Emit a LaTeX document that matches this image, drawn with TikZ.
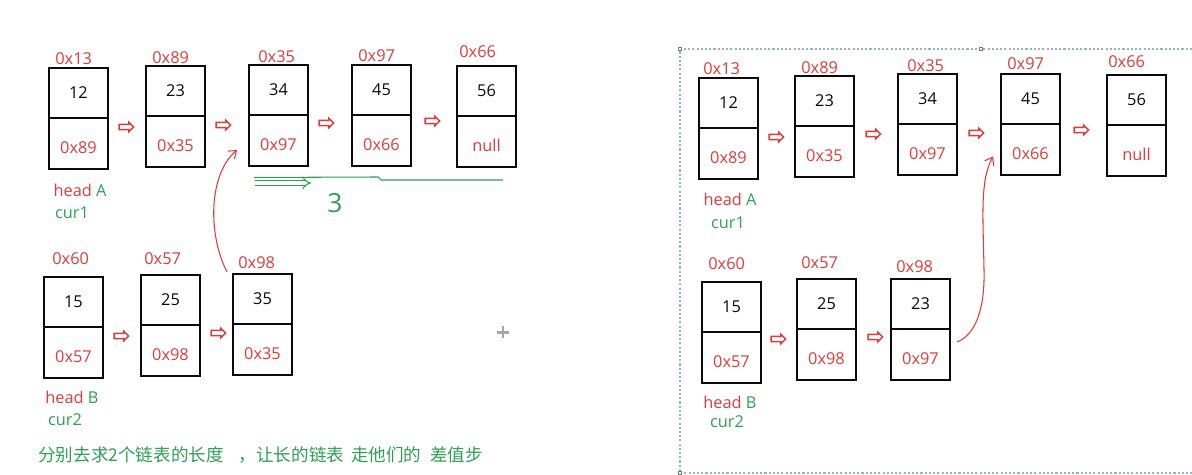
\documentclass[tikz,border=0pt]{standalone}
\usepackage{fontspec}
\setmainfont{Open Sans}
\newfontfamily\cjk{Noto Sans CJK SC}
\usetikzlibrary{arrows.meta,calc,positioning,shapes.arrows}
\definecolor{addrred}{RGB}{226,58,56}
\definecolor{curgreen}{RGB}{46,160,84}
\definecolor{framegray}{RGB}{150,180,200}
\definecolor{ink}{RGB}{10,10,10}
\tikzset{
  valcell/.style={draw=ink, line width=1pt, minimum width=1.18cm, minimum height=1.0cm,
    inner sep=0pt, outer sep=0pt, font=\fontsize{9.3}{11}\selectfont, text=ink},
  nextcell/.style={valcell, minimum height=1.02cm, text=addrred, text height=11pt, text depth=0pt},
  addr/.style={font=\fontsize{9.3}{11}\selectfont, text=addrred, inner sep=0pt},
  ptr/.style={single arrow, draw=addrred, fill=white, line width=0.8pt, minimum height=0.29cm,
    minimum width=0.19cm, single arrow head extend=0.04cm, inner sep=0.035cm},
  redlink/.style={-{Straight Barb[length=4pt,width=6pt]}, draw=addrred, line width=0.6pt},
  stepline/.style={draw=curgreen, line width=0.6pt},
  tag/.style={font=\fontsize{9.3}{11}\selectfont, inner sep=0pt},
  note/.style={font=\cjk\fontsize{10}{12}\selectfont, text=curgreen, inner sep=0pt},
  selframe/.style={draw=framegray, line width=0.6pt, dash pattern=on 1.2pt off 1.2pt},
}
% list cell: name, top-left, value, next, own address, label offset
\newcommand{\listnode}[6]{
  \node[valcell, anchor=north west] (#1-v) at (#2) {#3};
  \node[nextcell, anchor=north] (#1-n) at (#1-v.south) {#4};
  \node[addr, anchor=base west] (#1-a) at ($(#1-v.north west)+(#6)$) {#5};
}

\begin{document}
\begin{tikzpicture}[x=0.02cm,y=-0.02cm]
  \useasboundingbox (0,0) rectangle (1192,475);

  % Left: list A on top, list B below.
  \listnode{A1}{49,68}{12}{0x89}{0x13}{6,-3}
  \listnode{A2}{146,66}{23}{0x35}{0x89}{6,-2}
  \listnode{A3}{249,65}{34}{0x97}{0x35}{9,-2}
  \listnode{A4}{352,65}{45}{0x66}{0x97}{6,-3}
  \listnode{A5}{457,66}{56}{null}{0x66}{2,-8}
  \node[ptr] (pA1) at (125,127) {};
  \node[ptr] (pA2) at (222,125) {};
  \node[ptr] (pA3) at (325,123) {};
  \node[ptr] (pA4) at (431,121) {};

  \listnode{B1}{44,277}{15}{0x57}{0x60}{8,-12}
  \listnode{B2}{141,275}{25}{0x98}{0x57}{3,-10}
  \listnode{B3}{233,274}{35}{0x35}{0x98}{5,-5}
  \node[ptr] (pB1) at (120,336) {};
  \node[ptr] (pB2) at (217,333) {};

  \node[tag, text=addrred] (hA) at (80,190) {head \textcolor{curgreen}{A}};
  \node[tag, text=curgreen] (cA) at (72,213) {cur1};
  \node[tag, text=addrred] (hB) at (72,397) {head \textcolor{curgreen}{B}};
  \node[tag, text=curgreen] (cB) at (65,420) {cur2};

  % Hand-drawn hint: B3 joins A3, difference of 3 steps.
  \draw[redlink] ($(B3-v.north west)+(-6,-2)$) .. controls (208,235) and (208,175) .. ($(A3-n.west)+(-12,9.5)$);
  \coordinate (gapS) at (254,177.5);
  \coordinate (gapE) at (503,180);
  \draw[stepline] (gapS) -- (378,177) -- (381,180) -- (gapE);
  \draw[stepline, double=white, double distance=2pt, line width=0.6pt, -{Implies}] (255,183) -- (311,183);
  \node[font=\fontsize{15}{18}\selectfont, text=curgreen, inner sep=0pt] (diff) at (335,203) {3};

  \node[note, anchor=west] (hint) at (38,455)
    {分别去求2个链表的长度\hspace{0.85em}，让长的链表\hspace{0.4em}走他们的\hspace{0.5em}差值步};

  % cursor mark
  \draw[gray!70, line width=1.2pt] (497,332.5) -- (509,332.5) (503,326.5) -- (503,338.5);

  % Right: selection frame with the joined lists.
  \draw[selframe] (1192,49) -- (680,49) -- (680,473) -- (1192,473);
  \draw[framegray!70!black, fill=white, line width=0.4pt] (678.5,47.5) rectangle +(3,3);
  \draw[framegray!70!black, fill=white, line width=0.4pt] (979.5,47.5) rectangle +(3,3);
  \draw[framegray!70!black, fill=white, line width=0.4pt] (678.5,471.5) rectangle +(3,3);

  \listnode{C1}{699,78}{12}{0x89}{0x13}{4,-3}
  \listnode{C2}{795,76}{23}{0x35}{0x89}{6,-2}
  \listnode{C3}{898,74}{34}{0x97}{0x35}{9,-2}
  \listnode{C4}{1001,74}{45}{0x66}{0x97}{6,-4}
  \listnode{C5}{1107,75}{56}{null}{0x66}{1,-7}
  \node[ptr] (pC1) at (775,137) {};
  \node[ptr] (pC2) at (872,134) {};
  \node[ptr] (pC3) at (975,133) {};
  \node[ptr] (pC4) at (1080,130) {};

  \listnode{D1}{702,282}{15}{0x57}{0x60}{6,-12}
  \listnode{D2}{797,279}{25}{0x98}{0x57}{4,-10}
  \listnode{D3}{891,279}{23}{0x97}{0x98}{5,-6}
  \node[ptr] (pD1) at (777,339) {};
  \node[ptr] (pD2) at (874,337) {};

  \node[tag, text=addrred] (hC) at (730,199) {head \textcolor{curgreen}{A}};
  \node[tag, text=curgreen] (cC) at (728,223) {cur1};
  \node[tag, text=addrred] (hD) at (730,402) {head \textcolor{curgreen}{B}};
  \node[tag, text=curgreen] (cD) at (727,422) {cur2};

  \draw[redlink] ($(D3-n.east)+(7,-12.5)$) .. controls (975,335) and (985,310) .. (984,270)
    .. controls (983,215) and (980,180) .. ($(C4-n.west)+(-8,7)$);

\end{tikzpicture}
\end{document}
